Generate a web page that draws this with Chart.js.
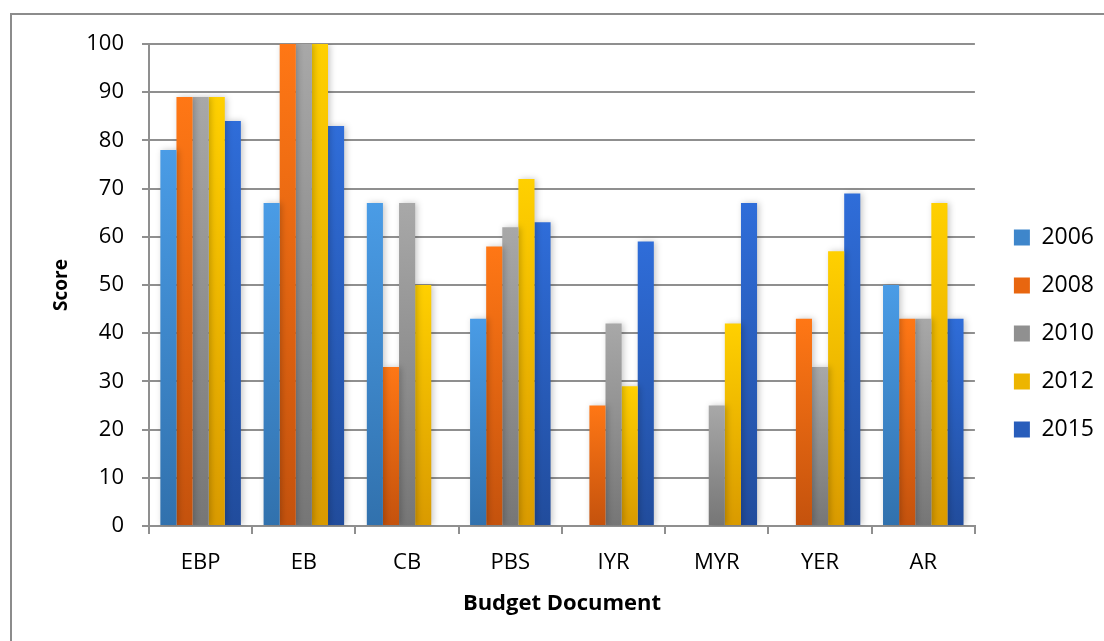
<!DOCTYPE html>
<html>
<head>
<meta charset="utf-8">
<script src="https://cdn.jsdelivr.net/npm/chart.js@4/dist/chart.umd.min.js"></script>
<style>
  html, body { margin: 0; padding: 0; background: #ffffff; }
  #wrap { width: 1104px; height: 641px; position: relative; }
</style>
</head>
<body>
<div id="wrap"><canvas id="c" width="1104" height="641"></canvas></div>
<script>
const categories = ['EBP', 'EB', 'CB', 'PBS', 'IYR', 'MYR', 'YER', 'AR'];
const seriesNames = ['2006', '2008', '2010', '2012', '2015'];
const values2006 = [78, 67, 67, 43, null, null, null, 50];
const values2008 = [89, 100, 33, 58, 25, null, 43, 43];
const values2010 = [89, 100, 67, 62, 42, 25, 33, 43];
const values2012 = [89, 100, 50, 72, 29, 42, 57, 67];
const values2015 = [84, 83, null, 63, 59, 67, 69, 43];
const yTicks = [0, 10, 20, 30, 40, 50, 60, 70, 80, 90, 100];

const seriesValues = [values2006, values2008, values2010, values2012, values2015];
const gradTop = ['#4A9CE6', '#FF7715', '#A8A8A8', '#FFD000', '#2F6DD9'];
const gradBottom = ['#3171AD', '#C4520D', '#767676', '#D99A00', '#214C9C'];
const legendFill = ['#3E86CB', '#E8660F', '#909090', '#EDB500', '#285DBB'];

function barGradient(i) {
  return (ctx) => {
    const chart = ctx.chart;
    const area = chart.chartArea;
    if (!area || ctx.type !== 'data' || ctx.raw == null) return legendFill[i];
    const ys = chart.scales.y;
    const y0 = ys.getPixelForValue(ctx.raw);
    const y1 = ys.getPixelForValue(0);
    if (!isFinite(y0) || !isFinite(y1) || y0 === y1) return legendFill[i];
    const g = chart.ctx.createLinearGradient(0, y0, 0, y1);
    g.addColorStop(0, gradTop[i]);
    g.addColorStop(1, gradBottom[i]);
    return g;
  };
}

const frame = {
  id: 'frame',
  beforeDraw(chart) {
    const c = chart.ctx;
    c.save();
    c.strokeStyle = '#8c8c8c';
    c.lineWidth = 2;
    c.strokeRect(11, 14, 1200, 1000);
    c.restore();
  }
};

const barShadow = {
  id: 'barShadow',
  beforeDatasetsDraw(chart) {
    const c = chart.ctx;
    c.save();
    c.shadowColor = 'rgba(0,0,0,0.22)';
    c.shadowBlur = 6;
    c.shadowOffsetX = 2;
    c.shadowOffsetY = 0;
  },
  afterDatasetsDraw(chart) {
    chart.ctx.restore();
  }
};

Chart.defaults.font.family = "'Open Sans', 'DejaVu Sans', sans-serif";
Chart.defaults.color = '#000000';

const GRID = '#8f8f8f';

new Chart(document.getElementById('c'), {
  type: 'bar',
  data: {
    labels: categories,
    datasets: seriesNames.map((name, i) => ({
      label: name,
      data: seriesValues[i],
      backgroundColor: barGradient(i),
      borderWidth: 0,
      categoryPercentage: 0.78,
      barPercentage: 1.0
    }))
  },
  plugins: [frame, barShadow],
  options: {
    responsive: false,
    animation: false,
    layout: { padding: { top: 26, bottom: 0, left: 0, right: 0 } },
    plugins: {
      tooltip: { enabled: false },
      title: {
        display: true,
        text: '',
        font: { size: 18, lineHeight: 1 },
        padding: 0
      },
      legend: {
        position: 'right',
        align: 'center',
        labels: {
          boxWidth: 16,
          boxHeight: 16,
          padding: 25,
          font: { size: 23 },
          color: '#000',
          generateLabels(chart) {
            const items = Chart.defaults.plugins.legend.labels.generateLabels(chart);
            items.forEach((it) => {
              it.fillStyle = legendFill[it.datasetIndex];
              it.strokeStyle = legendFill[it.datasetIndex];
              it.lineWidth = 0;
            });
            return items;
          }
        }
      }
    },
    scales: {
      x: {
        grid: {
          display: true,
          drawOnChartArea: false,
          drawTicks: true,
          tickLength: 8,
          color: GRID,
          lineWidth: 2,
          offset: true
        },
        border: { display: true, color: GRID, width: 2 },
        ticks: { font: { size: 22 }, padding: 16, color: '#000' },
        title: {
          display: true,
          text: 'Budget Document',
          font: { size: 22, weight: 'bold' },
          color: '#000',
          padding: { top: 0, bottom: 24 }
        },
        afterFit(s) { s.height = 115; }
      },
      y: {
        min: 0,
        max: 100,
        afterBuildTicks(s) { s.ticks = yTicks.map(v => ({ value: v })); },
        grid: {
          color: GRID,
          lineWidth: 2,
          drawTicks: true,
          tickLength: 7
        },
        border: { display: true, color: GRID, width: 2 },
        ticks: { font: { size: 22 }, padding: 18, color: '#000' },
        title: {
          display: true,
          text: 'Score',
          font: { size: 19, weight: 'bold' },
          color: '#000',
          padding: { top: 50, bottom: 0 }
        },
        afterFit(s) { s.width = 149; }
      },
      pad: {
        type: 'linear',
        position: 'right',
        display: true,
        grid: { display: false, drawTicks: false },
        border: { display: false },
        ticks: { display: false },
        afterFit(s) { s.width = 14; }
      }
    }
  }
});
</script>
</body>
</html>
